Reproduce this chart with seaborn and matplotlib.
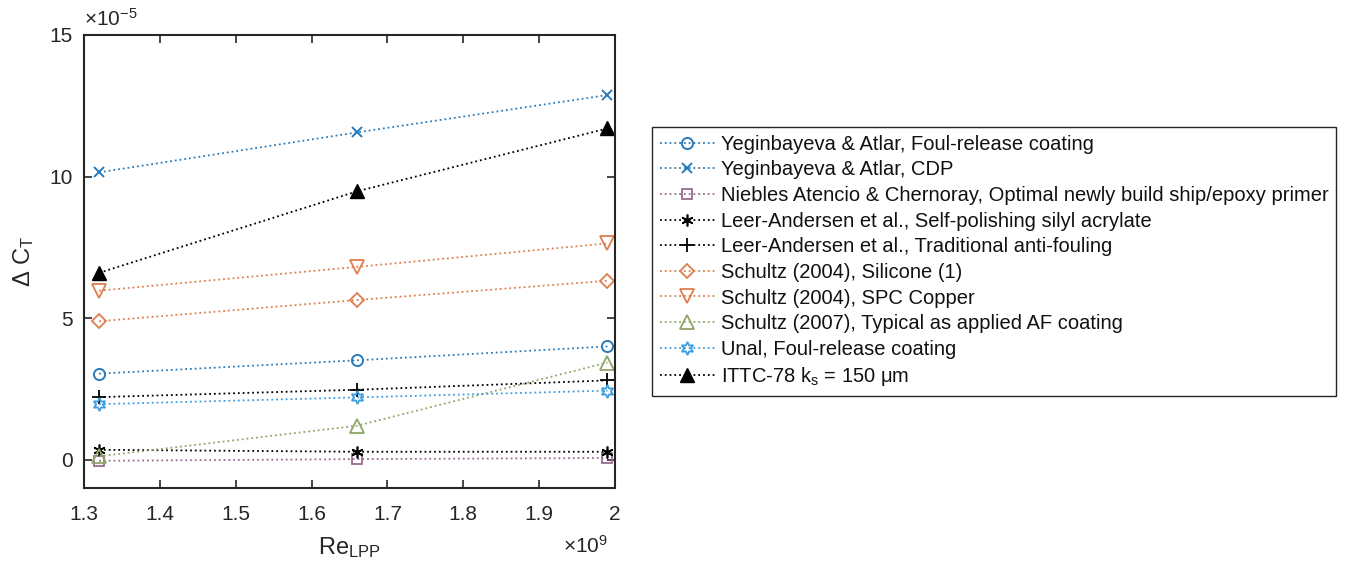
import matplotlib
matplotlib.use("Agg")
import matplotlib.pyplot as plt
import seaborn as sns
import numpy as np
from matplotlib.ticker import FuncFormatter

# ---- data ----
re_lpp = [1.32e9, 1.66e9, 1.99e9]
labels = [
    "Yeginbayeva & Atlar, Foul-release coating",
    "Yeginbayeva & Atlar, CDP",
    "Niebles Atencio & Chernoray, Optimal newly build ship/epoxy primer",
    "Leer-Andersen et al., Self-polishing silyl acrylate",
    "Leer-Andersen et al., Traditional anti-fouling",
    "Schultz (2004), Silicone (1)",
    "Schultz (2004), SPC Copper",
    "Schultz (2007), Typical as applied AF coating",
    "Unal, Foul-release coating",
    r"ITTC-78 k$_\mathregular{s}$ = 150 $\mu$m",
]
yeg_foul = [3.04e-5, 3.51e-5, 4.00e-5]
yeg_cdp = [10.15e-5, 11.56e-5, 12.88e-5]
niebles = [-0.04e-5, 0.02e-5, 0.06e-5]
leer_spc = [0.35e-5, 0.28e-5, 0.28e-5]
leer_trad = [2.21e-5, 2.47e-5, 2.80e-5]
schultz_sil = [4.89e-5, 5.64e-5, 6.32e-5]
schultz_spc = [5.97e-5, 6.81e-5, 7.64e-5]
schultz07 = [0.12e-5, 1.20e-5, 3.43e-5]
unal = [1.96e-5, 2.20e-5, 2.44e-5]
ittc = [6.60e-5, 9.48e-5, 11.70e-5]

x_ticks = [1.3e9, 1.4e9, 1.5e9, 1.6e9, 1.7e9, 1.8e9, 1.9e9, 2.0e9]
y_ticks = [0, 5e-5, 10e-5, 15e-5]

series = [yeg_foul, yeg_cdp, niebles, leer_spc, leer_trad,
          schultz_sil, schultz_spc, schultz07, unal, ittc]

blue = "#2a7bba"
lblue = "#3d9de0"
purple = "#9a6b92"
orange = "#df7d4c"
green = "#8ea666"
black = "#000000"
styles = [
    dict(color=blue, marker="o", ms=8, mfc="none", mew=1.4),
    dict(color=blue, marker="x", ms=6.5, mfc="none", mew=1.4),
    dict(color=purple, marker="s", ms=7.5, mfc="none", mew=1.3),
    dict(color=black, marker=(6, 2, 0), ms=8.5, mfc="none", mew=1.2),
    dict(color=black, marker="+", ms=9.5, mfc="none", mew=1.3),
    dict(color=orange, marker="D", ms=7.5, mfc="none", mew=1.3),
    dict(color=orange, marker="v", ms=9.5, mfc="none", mew=1.3),
    dict(color=green, marker="^", ms=9.5, mfc="none", mew=1.3),
    dict(color=lblue, marker=(6, 1, 0), ms=9.5, mfc="none", mew=1.3),
    dict(color=black, marker="^", ms=10.5, mfc=black, mew=1.0),
]

sns.set_theme(style="ticks")
plt.rcParams["font.family"] = ["Liberation Sans", "DejaVu Sans"]
plt.rcParams["mathtext.fontset"] = "custom"
plt.rcParams["mathtext.rm"] = "Liberation Sans"
plt.rcParams["mathtext.it"] = "Liberation Sans:italic"
plt.rcParams["mathtext.default"] = "regular"

fig = plt.figure(figsize=(13.45, 5.63), dpi=100)
ax = fig.add_axes([84 / 1345, 75 / 563, 531 / 1345, 453 / 563])

for y, lab, st in zip(series, labels, styles):
    sns.lineplot(x=re_lpp, y=y, ax=ax, label=lab, linestyle=":", linewidth=1.3,
                 color=st["color"], marker=st["marker"], markersize=st["ms"],
                 markerfacecolor=st["mfc"], markeredgecolor=st["color"],
                 markeredgewidth=st["mew"], errorbar=None)

ax.set_xlim(1.3e9, 2.0e9)
ax.set_ylim(-1e-5, 15e-5)
ax.set_xticks(x_ticks)
ax.set_yticks(y_ticks)
ax.xaxis.set_major_formatter(FuncFormatter(lambda v, p: f"{v / 1e9:g}"))
ax.yaxis.set_major_formatter(FuncFormatter(lambda v, p: f"{round(v / 1e-5, 6):g}"))

tc = "#262626"
ax.tick_params(direction="in", top=True, right=True, length=6, width=1.2,
               labelsize=15, colors=tc, pad=8)
ax.tick_params(axis="x", pad=12)
for sp in ax.spines.values():
    sp.set_linewidth(1.5)
    sp.set_color(tc)

ax.text(0.0, 1.012, r"$\times$10$^{-5}$", transform=ax.transAxes,
        fontsize=15, color=tc, ha="left", va="bottom")
ax.text(0.986, -0.103, r"$\times$10$^{9}$", transform=ax.transAxes,
        fontsize=15, color=tc, ha="right", va="top")

ax.set_xlabel(r"Re$_{LPP}$", fontsize=17, color=tc, labelpad=8)
ax.set_ylabel(r"$\Delta$ C$_T$", fontsize=17, color=tc, labelpad=10)

handles, labs = ax.get_legend_handles_labels()
ax.get_legend().remove()
leg = fig.legend(handles, labs, loc="upper left",
                 bbox_to_anchor=(652 / 1345, 1 - 127 / 563),
                 fontsize=14.5, frameon=True, fancybox=False, framealpha=1,
                 edgecolor=tc, handlelength=2.75, handletextpad=0.3,
                 labelspacing=0.33, borderpad=0.38, borderaxespad=0)
leg.get_frame().set_linewidth(1.0)
for t in leg.get_texts():
    t.set_color("#111111")

fig.savefig("out.png", dpi=100)
